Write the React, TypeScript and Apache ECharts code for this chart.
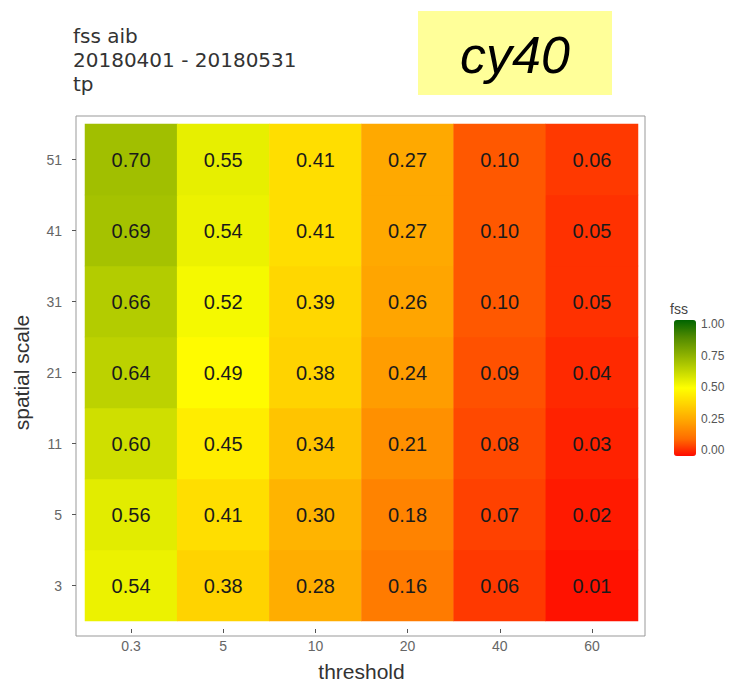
import React, { useEffect, useRef } from "react";
import * as echarts from "echarts";

const thresholds = ["0.3", "5", "10", "20", "40", "60"];
const scales = ["3", "5", "11", "21", "31", "41", "51"];
// rows follow scales (bottom to top), columns follow thresholds
const fss3 = [0.54, 0.38, 0.28, 0.16, 0.06, 0.01];
const fss5 = [0.56, 0.41, 0.3, 0.18, 0.07, 0.02];
const fss11 = [0.6, 0.45, 0.34, 0.21, 0.08, 0.03];
const fss21 = [0.64, 0.49, 0.38, 0.24, 0.09, 0.04];
const fss31 = [0.66, 0.52, 0.39, 0.26, 0.1, 0.05];
const fss41 = [0.69, 0.54, 0.41, 0.27, 0.1, 0.05];
const fss51 = [0.7, 0.55, 0.41, 0.27, 0.1, 0.06];
const fssRows = [fss3, fss5, fss11, fss21, fss31, fss41, fss51];
const legendTicks = [0, 0.25, 0.5, 0.75, 1];
const titleLines = ["fss aib", "20180401 - 20180531", "tp"];
const tag = "cy40";

const FONT = "'Liberation Sans', Arial, Helvetica, sans-serif";
const WIDE = "'DejaVu Sans', 'Liberation Sans', sans-serif";

export default function App() {
  const ref = useRef<HTMLDivElement>(null);
  useEffect(() => {
    if (!ref.current) return;
    const chart = echarts.init(ref.current, undefined, { renderer: "svg" });
    const data: number[][] = [];
    fssRows.forEach((row, yi) => row.forEach((v, xi) => data.push([xi, yi, v])));

    const barTop = 320;
    const barH = 136;
    const legendLabels = legendTicks.map((v) => ({
      type: "text",
      left: 701,
      top: barTop + 5 + (1 - v) * (barH - 10) - 7,
      style: { text: v.toFixed(2), fill: "#555", font: `12px ${FONT}` },
    }));

    const titleTexts = titleLines.map((t, i) => ({
      type: "text",
      left: 73,
      top: 26 + i * 24,
      style: { text: t, fill: "#333", font: `20px ${WIDE}` },
    }));

    chart.setOption({
      animation: false,
      textStyle: { fontFamily: FONT },
      grid: { left: 85, top: 124, width: 553, height: 504 },
      xAxis: {
        type: "category",
        data: thresholds,
        offset: 8,
        axisLine: { show: false },
        axisTick: { show: true, length: 4, alignWithLabel: true, lineStyle: { color: "#555" } },
        axisLabel: { fontSize: 14, color: "#666", margin: 10 },
        splitLine: { show: false },
        name: "threshold",
        nameLocation: "middle",
        nameGap: 32,
        nameTextStyle: { fontSize: 21, color: "#333" },
      },
      yAxis: {
        type: "category",
        data: scales,
        offset: 9,
        axisLine: { show: false },
        axisTick: { show: true, length: 4, alignWithLabel: true, lineStyle: { color: "#555" } },
        axisLabel: { fontSize: 14, color: "#666", margin: 14 },
        splitLine: { show: false },
        name: "spatial scale",
        nameLocation: "middle",
        nameGap: 44,
        nameRotate: 90,
        nameTextStyle: { fontSize: 21, color: "#333" },
      },
      visualMap: {
        type: "continuous",
        min: 0,
        max: 1,
        calculable: false,
        orient: "vertical",
        left: 674,
        top: barTop,
        itemWidth: 22,
        itemHeight: barH,
        padding: 0,
        text: ["", ""],
        showLabel: false,
        inRange: {
          color: [
            "#FF0A00",
            "#FF6C00",
            "#FFA100",
            "#FFD100",
            "#FFFF00",
            "#C3D700",
            "#8AAF00",
            "#508900",
            "#006400",
          ],
        },
      },
      series: [
        {
          type: "heatmap",
          data,
          label: {
            show: true,
            formatter: (p: any) => (p.value[2] as number).toFixed(2),
            fontSize: 20,
            color: "#1a1a1a",
            fontFamily: FONT,
          },
          itemStyle: { borderWidth: 0 },
          emphasis: { disabled: true },
        },
      ],
      graphic: [
        {
          type: "rect",
          shape: { x: 76, y: 116, width: 569, height: 520 },
          style: { fill: "none", stroke: "#999", lineWidth: 1 },
          silent: true,
        },
        ...titleTexts,
        {
          type: "rect",
          shape: { x: 418, y: 11, width: 194, height: 84 },
          style: { fill: "#FFFF99" },
        },
        {
          type: "text",
          x: 515,
          y: 55,
          style: {
            text: tag,
            fill: "#000",
            font: `italic 52px ${FONT}`,
            align: "center",
            verticalAlign: "middle",
          },
        },
        {
          type: "text",
          left: 670,
          top: 302,
          style: { text: "fss", fill: "#444", font: `14px ${FONT}` },
        },
        ...legendLabels,
      ],
    });
    return () => chart.dispose();
  }, []);
  return (
    <div
      ref={ref}
      style={{ position: "fixed", left: 0, top: 0, width: 743, height: 687, background: "#fff" }}
    />
  );
}
